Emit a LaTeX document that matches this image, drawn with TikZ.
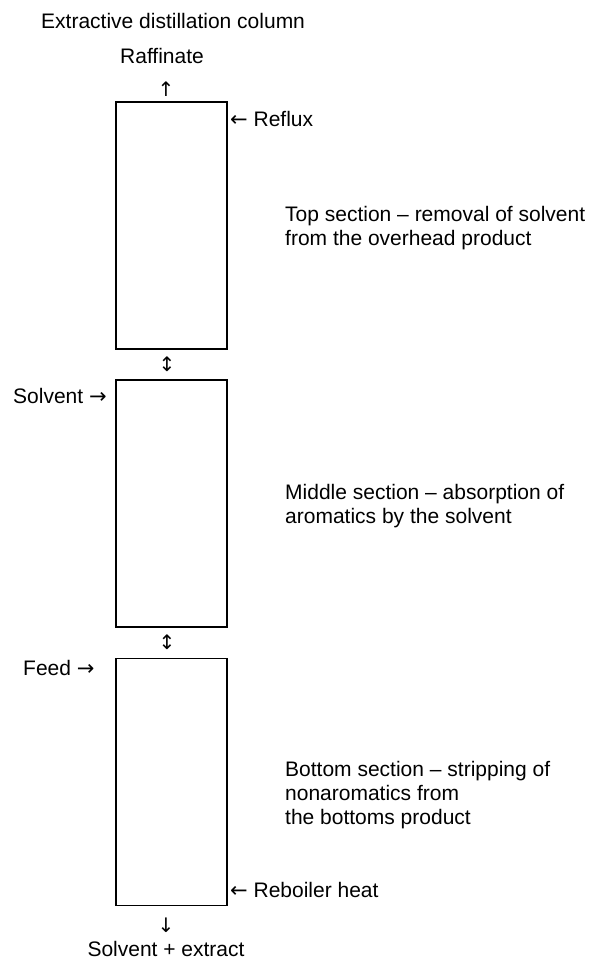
\documentclass[tikz,border=0pt]{standalone}
\usepackage{fontspec}
\setmainfont{Liberation Sans}
\newfontfamily\arrowfont{DejaVu Sans}
\newcommand{\arr}[1]{{\arrowfont #1}}
\usetikzlibrary{positioning}

\begin{document}
\begin{tikzpicture}[x=1pt,y=-1pt,font=\fontsize{21}{24}\selectfont,
    section/.style={draw, line width=1.8pt,
        minimum width=111pt, minimum height=247pt, inner sep=0pt},
    lbl/.style={inner sep=0pt, align=left, anchor=base west},
    flow/.style={inner sep=0pt, font=\fontsize{20}{24}\selectfont\arrowfont}]
\useasboundingbox (0,0) rectangle (594,960);

% Title
\node[lbl] (title) at (41,29) {Extractive distillation column};

% Column sections
\node[section, anchor=north west] (top) at (115,101) {};
\node[section, below=29pt of top] (middle) {};
\node[section, below=30pt of middle] (bottom) {};

% Streams in and out
\node[lbl] (raff) at (120,64) {Raffinate};
\node[flow] (up) at (166,89.5) {↑};
\node[lbl] (reflux) at (230,127) {\arr{←} Reflux};
\node[lbl] (solvent) at (13,403) {Solvent \arr{→}};
\node[lbl] (feed) at (23,675) {Feed \arr{→}};
\node[lbl] (reboil) at (230,897) {\arr{←} Reboiler heat};
\node[flow] (down) at (166,925.5) {↓};
\node[inner sep=0pt, anchor=base] (extract) at (166,956) {Solvent + extract};

% Vapour/liquid exchange between sections
\path (top) -- node[flow, xshift=-4.5pt] (ex1) {↕} (middle);
\path (middle) -- node[flow, xshift=-4.5pt] (ex2) {↕} (bottom);

% Section notes (base = last line)
\node[lbl] (toptxt) at (285,245) {Top section – removal of solvent\\from the overhead product};
\node[lbl] (midtxt) at (285,523) {Middle section – absorption of\\aromatics by the solvent};
\node[lbl] (bottxt) at (285,824) {Bottom section – stripping of\\nonaromatics from\\the bottoms product};
\end{tikzpicture}
\end{document}
